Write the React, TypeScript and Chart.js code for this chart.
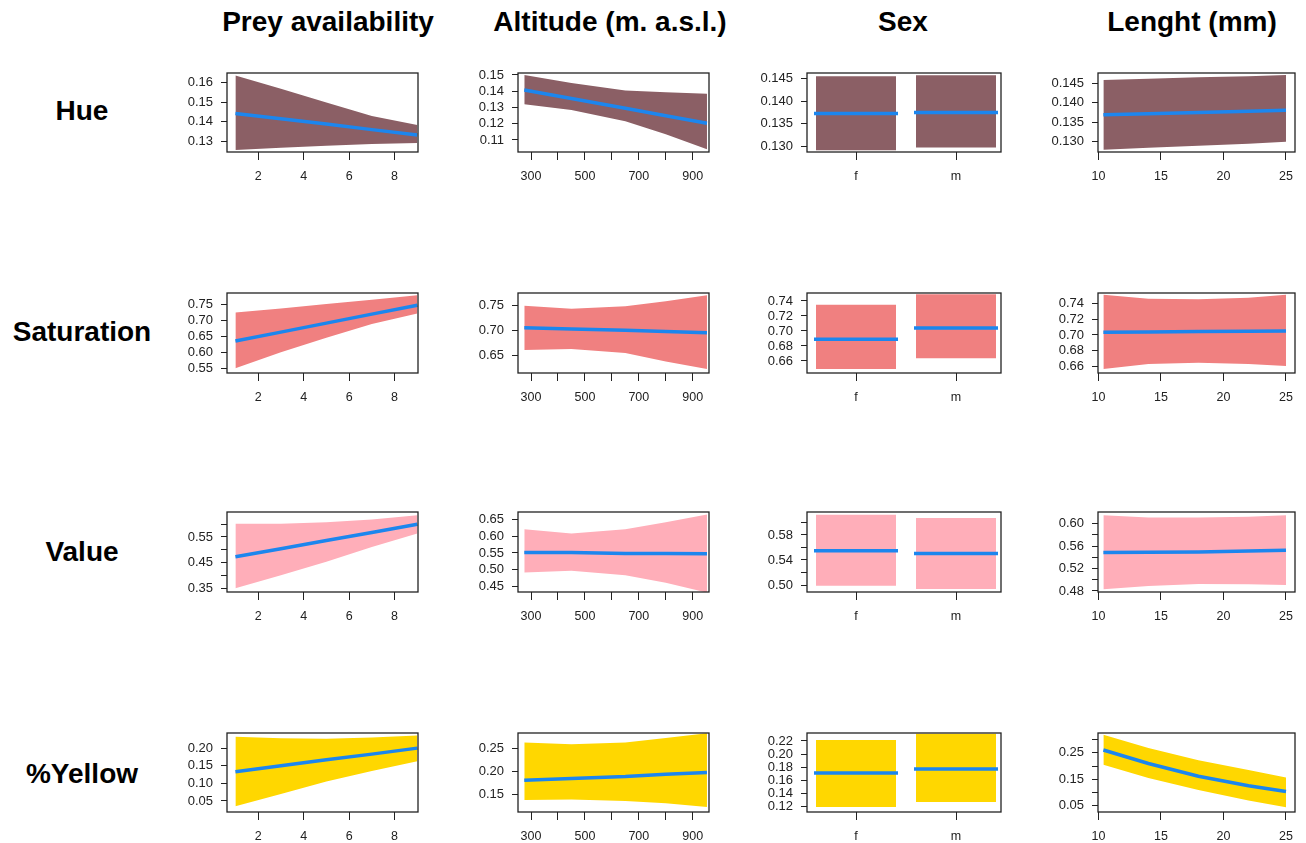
import React, { useEffect, useRef } from "react";
import { Chart, registerables } from "chart.js";
Chart.register(...registerables);

const FONT = "'Liberation Sans', Arial, Helvetica, sans-serif";
Chart.defaults.font.family = FONT;

const COLUMN_TITLES = ["Prey availability", "Altitude (m. a.s.l.)", "Sex", "Lenght (mm)"];
const ROW_TITLES = ["Hue", "Saturation", "Value", "%Yellow"];

// x grids
const PREY_X = [1, 3, 5, 7, 9];
const ALT_X = [275, 450, 650, 800, 953];
const LEN_X = [10.4, 14, 18, 22, 25];
const SEX_LEVELS = ["f", "m"];
const SEX_POS = [1, 2];

// x ticks
const PREY_XTICKS = [2, 4, 6, 8];
const PREY_XLABELS = ["2", "4", "6", "8"];
const ALT_XTICKS = [300, 400, 500, 600, 700, 800, 900];
const ALT_XLABELS = ["300", "", "500", "", "700", "", "900"];
const LEN_XTICKS = [10, 15, 20, 25];
const LEN_XLABELS = ["10", "15", "20", "25"];
const PREY_XRANGE = [0.63, 9.03];
const ALT_XRANGE = [251.7, 960.5];
const SEX_XRANGE = [0.51, 2.45];
const LEN_XRANGE = [9.97, 25.72];

// Hue
const HUE_PREY_FIT = [0.1443, 0.1416, 0.1389, 0.1361, 0.1334];
const HUE_PREY_UPPER = [0.1634, 0.1568, 0.1498, 0.143, 0.1384];
const HUE_PREY_LOWER = [0.1258, 0.127, 0.128, 0.1288, 0.1293];
const HUE_ALT_FIT = [0.1408, 0.1355, 0.1295, 0.1249, 0.1203];
const HUE_ALT_UPPER = [0.15, 0.1451, 0.1405, 0.1393, 0.1385];
const HUE_ALT_LOWER = [0.132, 0.1285, 0.1215, 0.1135, 0.1043];
const HUE_SEX_FIT = [0.1373, 0.1375];
const HUE_SEX_UPPER = [0.1456, 0.1458];
const HUE_SEX_LOWER = [0.1291, 0.1297];
const HUE_LEN_FIT = [0.1369, 0.1372, 0.1375, 0.1378, 0.1381];
const HUE_LEN_UPPER = [0.1458, 0.1461, 0.1465, 0.1468, 0.1471];
const HUE_LEN_LOWER = [0.128, 0.1285, 0.129, 0.1295, 0.13];

// Saturation
const SAT_PREY_FIT = [0.635, 0.663, 0.691, 0.719, 0.747];
const SAT_PREY_UPPER = [0.724, 0.737, 0.751, 0.764, 0.778];
const SAT_PREY_LOWER = [0.55, 0.6, 0.645, 0.688, 0.721];
const SAT_ALT_FIT = [0.705, 0.7025, 0.7, 0.6975, 0.695];
const SAT_ALT_UPPER = [0.749, 0.743, 0.748, 0.758, 0.77];
const SAT_ALT_LOWER = [0.66, 0.662, 0.654, 0.637, 0.622];
const SAT_SEX_FIT = [0.689, 0.704];
const SAT_SEX_UPPER = [0.7351, 0.7488];
const SAT_SEX_LOWER = [0.6494, 0.6635];
const SAT_LEN_FIT = [0.7034, 0.7038, 0.7043, 0.7048, 0.7052];
const SAT_LEN_UPPER = [0.7516, 0.7465, 0.746, 0.748, 0.7516];
const SAT_LEN_LOWER = [0.6561, 0.6625, 0.6643, 0.6625, 0.66];

// Value
const VAL_PREY_FIT = [0.4725, 0.504, 0.536, 0.567, 0.599];
const VAL_PREY_UPPER = [0.6016, 0.6016, 0.607, 0.618, 0.634];
const VAL_PREY_LOWER = [0.35, 0.401, 0.453, 0.511, 0.563];
const VAL_ALT_FIT = [0.5515, 0.551, 0.5485, 0.548, 0.5475];
const VAL_ALT_UPPER = [0.621, 0.6086, 0.621, 0.6418, 0.6655];
const VAL_ALT_LOWER = [0.4915, 0.4966, 0.4832, 0.4604, 0.4313];
const VAL_SEX_FIT = [0.5546, 0.5503];
const VAL_SEX_UPPER = [0.6123, 0.607];
const VAL_SEX_LOWER = [0.499, 0.4936];
const VAL_LEN_FIT = [0.5486, 0.549, 0.5495, 0.551, 0.5527];
const VAL_LEN_UPPER = [0.6147, 0.611, 0.6106, 0.612, 0.6147];
const VAL_LEN_LOWER = [0.483, 0.489, 0.4924, 0.492, 0.4907];

// %Yellow
const YEL_PREY_FIT = [0.133, 0.15, 0.167, 0.183, 0.2];
const YEL_PREY_UPPER = [0.232, 0.228, 0.227, 0.23, 0.236];
const YEL_PREY_LOWER = [0.035, 0.07, 0.105, 0.135, 0.163];
const YEL_ALT_FIT = [0.18, 0.184, 0.188, 0.193, 0.197];
const YEL_ALT_UPPER = [0.262, 0.258, 0.262, 0.272, 0.282];
const YEL_ALT_LOWER = [0.137, 0.138, 0.135, 0.13, 0.122];
const YEL_SEX_FIT = [0.1708, 0.177];
const YEL_SEX_UPPER = [0.2215, 0.231];
const YEL_SEX_LOWER = [0.1185, 0.126];
const YEL_LEN_FIT = [0.261, 0.21, 0.162, 0.126, 0.104];
const YEL_LEN_UPPER = [0.318, 0.268, 0.222, 0.185, 0.157];
const YEL_LEN_LOWER = [0.205, 0.155, 0.11, 0.07, 0.045];

// y ticks, labels and ranges
const HUE_PREY_YTICKS = [0.13, 0.14, 0.15, 0.16];
const HUE_PREY_YLABELS = ["0.13", "0.14", "0.15", "0.16"];
const HUE_PREY_YRANGE = [0.1248, 0.1647];
const HUE_ALT_YTICKS = [0.11, 0.12, 0.13, 0.14, 0.15];
const HUE_ALT_YLABELS = ["0.11", "0.12", "0.13", "0.14", "0.15"];
const HUE_ALT_YRANGE = [0.1026, 0.1512];
const HUE_SEX_YTICKS = [0.13, 0.135, 0.14, 0.145];
const HUE_SEX_YLABELS = ["0.130", "0.135", "0.140", "0.145"];
const HUE_SEX_YRANGE = [0.1287, 0.1463];
const HUE_LEN_YTICKS = [0.13, 0.135, 0.14, 0.145];
const HUE_LEN_YLABELS = ["0.130", "0.135", "0.140", "0.145"];
const HUE_LEN_YRANGE = [0.1274, 0.1476];

const SAT_PREY_YTICKS = [0.55, 0.6, 0.65, 0.7, 0.75];
const SAT_PREY_YLABELS = ["0.55", "0.60", "0.65", "0.70", "0.75"];
const SAT_PREY_YRANGE = [0.5354, 0.785];
const SAT_ALT_YTICKS = [0.65, 0.7, 0.75];
const SAT_ALT_YLABELS = ["0.65", "0.70", "0.75"];
const SAT_ALT_YRANGE = [0.614, 0.7746];
const SAT_SEX_YTICKS = [0.66, 0.68, 0.7, 0.72, 0.74];
const SAT_SEX_YLABELS = ["0.66", "0.68", "0.70", "0.72", "0.74"];
const SAT_SEX_YRANGE = [0.644, 0.7506];
const SAT_LEN_YTICKS = [0.66, 0.68, 0.7, 0.72, 0.74];
const SAT_LEN_YLABELS = ["0.66", "0.68", "0.70", "0.72", "0.74"];
const SAT_LEN_YRANGE = [0.651, 0.754];

const VAL_PREY_YTICKS = [0.35, 0.4, 0.45, 0.5, 0.55, 0.6];
const VAL_PREY_YLABELS = ["0.35", "", "0.45", "", "0.55", ""];
const VAL_PREY_YRANGE = [0.3357, 0.647];
const VAL_ALT_YTICKS = [0.45, 0.5, 0.55, 0.6, 0.65];
const VAL_ALT_YLABELS = ["0.45", "0.50", "0.55", "0.60", "0.65"];
const VAL_ALT_YRANGE = [0.433, 0.6727];
const VAL_SEX_YTICKS = [0.5, 0.52, 0.54, 0.56, 0.58, 0.6];
const VAL_SEX_YLABELS = ["0.50", "", "0.54", "", "0.58", ""];
const VAL_SEX_YRANGE = [0.4889, 0.6166];
const VAL_LEN_YTICKS = [0.48, 0.5, 0.52, 0.54, 0.56, 0.58, 0.6];
const VAL_LEN_YLABELS = ["0.48", "", "0.52", "", "0.56", "", "0.60"];
const VAL_LEN_YRANGE = [0.4782, 0.6206];

const YEL_PREY_YTICKS = [0.05, 0.1, 0.15, 0.2];
const YEL_PREY_YLABELS = ["0.05", "0.10", "0.15", "0.20"];
const YEL_PREY_YRANGE = [0.0186, 0.243];
const YEL_ALT_YTICKS = [0.15, 0.2, 0.25];
const YEL_ALT_YLABELS = ["0.15", "0.20", "0.25"];
const YEL_ALT_YRANGE = [0.111, 0.2826];
const YEL_SEX_YTICKS = [0.12, 0.14, 0.16, 0.18, 0.2, 0.22];
const YEL_SEX_YLABELS = ["0.12", "0.14", "0.16", "0.18", "0.20", "0.22"];
const YEL_SEX_YRANGE = [0.1108, 0.2323];
const YEL_LEN_YTICKS = [0.05, 0.1, 0.15, 0.2, 0.25, 0.3];
const YEL_LEN_YLABELS = ["0.05", "", "0.15", "", "0.25", ""];
const YEL_LEN_YRANGE = [0.027, 0.325];

// colours
const HUE_COLOR = "#8B5F65";
const SAT_COLOR = "#F08080";
const VAL_COLOR = "#FFAEB9";
const YEL_COLOR = "#FFD700";
const FIT_COLOR = "#1C86EE";

// layout (pixel boxes of plot areas)
const COL_BOXES = [[227, 418], [518, 709], [807, 1001], [1098, 1295]];
const ROW_BOXES = [[73, 152], [293, 372.5], [512, 592], [733, 812]];
const COL_TITLE_X = [328, 610, 903, 1192];
const COL_TITLE_Y = 22;
const ROW_TITLE_X = 82;
const ROW_TITLE_Y = [111, 332, 552, 774];

type Spec = {
  kind: "cont" | "sex";
  x: number[];
  fit: number[];
  upper: number[];
  lower: number[];
  color: string;
  xTicks: number[];
  xLabels: string[];
  xRange: number[];
  yTicks: number[];
  yLabels: string[];
  yRange: number[];
};

const cont = (x: number[], xTicks: number[], xLabels: string[], xRange: number[]) => ({ kind: "cont" as const, x, xTicks, xLabels, xRange });
const PREY = cont(PREY_X, PREY_XTICKS, PREY_XLABELS, PREY_XRANGE);
const ALT = cont(ALT_X, ALT_XTICKS, ALT_XLABELS, ALT_XRANGE);
const LEN = cont(LEN_X, LEN_XTICKS, LEN_XLABELS, LEN_XRANGE);
const SEX = { kind: "sex" as const, x: SEX_POS, xTicks: SEX_POS, xLabels: SEX_LEVELS, xRange: SEX_XRANGE };

const SPECS: Spec[][] = [
  [
    { ...PREY, fit: HUE_PREY_FIT, upper: HUE_PREY_UPPER, lower: HUE_PREY_LOWER, color: HUE_COLOR, yTicks: HUE_PREY_YTICKS, yLabels: HUE_PREY_YLABELS, yRange: HUE_PREY_YRANGE },
    { ...ALT, fit: HUE_ALT_FIT, upper: HUE_ALT_UPPER, lower: HUE_ALT_LOWER, color: HUE_COLOR, yTicks: HUE_ALT_YTICKS, yLabels: HUE_ALT_YLABELS, yRange: HUE_ALT_YRANGE },
    { ...SEX, fit: HUE_SEX_FIT, upper: HUE_SEX_UPPER, lower: HUE_SEX_LOWER, color: HUE_COLOR, yTicks: HUE_SEX_YTICKS, yLabels: HUE_SEX_YLABELS, yRange: HUE_SEX_YRANGE },
    { ...LEN, fit: HUE_LEN_FIT, upper: HUE_LEN_UPPER, lower: HUE_LEN_LOWER, color: HUE_COLOR, yTicks: HUE_LEN_YTICKS, yLabels: HUE_LEN_YLABELS, yRange: HUE_LEN_YRANGE },
  ],
  [
    { ...PREY, fit: SAT_PREY_FIT, upper: SAT_PREY_UPPER, lower: SAT_PREY_LOWER, color: SAT_COLOR, yTicks: SAT_PREY_YTICKS, yLabels: SAT_PREY_YLABELS, yRange: SAT_PREY_YRANGE },
    { ...ALT, fit: SAT_ALT_FIT, upper: SAT_ALT_UPPER, lower: SAT_ALT_LOWER, color: SAT_COLOR, yTicks: SAT_ALT_YTICKS, yLabels: SAT_ALT_YLABELS, yRange: SAT_ALT_YRANGE },
    { ...SEX, fit: SAT_SEX_FIT, upper: SAT_SEX_UPPER, lower: SAT_SEX_LOWER, color: SAT_COLOR, yTicks: SAT_SEX_YTICKS, yLabels: SAT_SEX_YLABELS, yRange: SAT_SEX_YRANGE },
    { ...LEN, fit: SAT_LEN_FIT, upper: SAT_LEN_UPPER, lower: SAT_LEN_LOWER, color: SAT_COLOR, yTicks: SAT_LEN_YTICKS, yLabels: SAT_LEN_YLABELS, yRange: SAT_LEN_YRANGE },
  ],
  [
    { ...PREY, fit: VAL_PREY_FIT, upper: VAL_PREY_UPPER, lower: VAL_PREY_LOWER, color: VAL_COLOR, yTicks: VAL_PREY_YTICKS, yLabels: VAL_PREY_YLABELS, yRange: VAL_PREY_YRANGE },
    { ...ALT, fit: VAL_ALT_FIT, upper: VAL_ALT_UPPER, lower: VAL_ALT_LOWER, color: VAL_COLOR, yTicks: VAL_ALT_YTICKS, yLabels: VAL_ALT_YLABELS, yRange: VAL_ALT_YRANGE },
    { ...SEX, fit: VAL_SEX_FIT, upper: VAL_SEX_UPPER, lower: VAL_SEX_LOWER, color: VAL_COLOR, yTicks: VAL_SEX_YTICKS, yLabels: VAL_SEX_YLABELS, yRange: VAL_SEX_YRANGE },
    { ...LEN, fit: VAL_LEN_FIT, upper: VAL_LEN_UPPER, lower: VAL_LEN_LOWER, color: VAL_COLOR, yTicks: VAL_LEN_YTICKS, yLabels: VAL_LEN_YLABELS, yRange: VAL_LEN_YRANGE },
  ],
  [
    { ...PREY, fit: YEL_PREY_FIT, upper: YEL_PREY_UPPER, lower: YEL_PREY_LOWER, color: YEL_COLOR, yTicks: YEL_PREY_YTICKS, yLabels: YEL_PREY_YLABELS, yRange: YEL_PREY_YRANGE },
    { ...ALT, fit: YEL_ALT_FIT, upper: YEL_ALT_UPPER, lower: YEL_ALT_LOWER, color: YEL_COLOR, yTicks: YEL_ALT_YTICKS, yLabels: YEL_ALT_YLABELS, yRange: YEL_ALT_YRANGE },
    { ...SEX, fit: YEL_SEX_FIT, upper: YEL_SEX_UPPER, lower: YEL_SEX_LOWER, color: YEL_COLOR, yTicks: YEL_SEX_YTICKS, yLabels: YEL_SEX_YLABELS, yRange: YEL_SEX_YRANGE },
    { ...LEN, fit: YEL_LEN_FIT, upper: YEL_LEN_UPPER, lower: YEL_LEN_LOWER, color: YEL_COLOR, yTicks: YEL_LEN_YTICKS, yLabels: YEL_LEN_YLABELS, yRange: YEL_LEN_YRANGE },
  ],
];

const Y_AXIS_W = 70;
const X_AXIS_H = 40;
const PAD_TOP = 20;
const PAD_RIGHT = 20;
const SEX_BAR_HALF = 0.4;
const SEX_LINE_HALF = 0.42;

const boxPlugin = {
  id: "rbox",
  afterDraw(chart: any) {
    const { ctx, chartArea: a } = chart;
    ctx.save();
    ctx.strokeStyle = "#222";
    ctx.lineWidth = 1.3;
    ctx.strokeRect(a.left, a.top, a.right - a.left, a.bottom - a.top);
    ctx.restore();
  },
};

function buildDatasets(s: Spec) {
  const band = (up: any[], lo: any[]) => [
    { data: up, fill: "+1", backgroundColor: s.color, borderColor: s.color, borderWidth: 0, pointRadius: 0, order: 1 },
    { data: lo, fill: false, backgroundColor: s.color, borderColor: s.color, borderWidth: 0, pointRadius: 0, order: 1 },
  ];
  const line = (pts: any[]) => ({
    data: pts,
    fill: false,
    borderColor: FIT_COLOR,
    borderWidth: 3.5,
    pointRadius: 0,
    order: 0,
    borderCapStyle: "butt",
  });
  const ds: any[] = [];
  if (s.kind === "cont") {
    ds.push(...band(s.x.map((x, i) => ({ x, y: s.upper[i] })), s.x.map((x, i) => ({ x, y: s.lower[i] }))));
    ds.push(line(s.x.map((x, i) => ({ x, y: s.fit[i] }))));
  } else {
    s.x.forEach((c, i) => {
      ds.push(
        ...band(
          [{ x: c - SEX_BAR_HALF, y: s.upper[i] }, { x: c + SEX_BAR_HALF, y: s.upper[i] }],
          [{ x: c - SEX_BAR_HALF, y: s.lower[i] }, { x: c + SEX_BAR_HALF, y: s.lower[i] }]
        )
      );
    });
    s.x.forEach((c, i) => {
      ds.push(line([{ x: c - SEX_LINE_HALF, y: s.fit[i] }, { x: c + SEX_LINE_HALF, y: s.fit[i] }]));
    });
  }
  return ds;
}

function Panel({ spec, box }: { spec: Spec; box: number[] }) {
  const ref = useRef<HTMLCanvasElement>(null);
  const [l, r, t, b] = box;
  const w = Math.round(r - l) + Y_AXIS_W + PAD_RIGHT;
  const h = Math.round(b - t) + PAD_TOP + X_AXIS_H;
  useEffect(() => {
    const chart = new Chart(ref.current as HTMLCanvasElement, {
      type: "line",
      data: { datasets: buildDatasets(spec) },
      plugins: [boxPlugin],
      options: {
        animation: false,
        responsive: false,
        maintainAspectRatio: false,
        devicePixelRatio: 1,
        layout: { padding: { top: PAD_TOP, right: PAD_RIGHT, left: 0, bottom: 0 } },
        plugins: { legend: { display: false }, tooltip: { enabled: false } },
        scales: {
          x: {
            type: "linear",
            min: spec.xRange[0],
            max: spec.xRange[1],
            afterBuildTicks: (axis: any) => {
              axis.ticks = spec.xTicks.map((v) => ({ value: v }));
            },
            afterFit: (axis: any) => {
              axis.height = X_AXIS_H;
            },
            ticks: {
              autoSkip: false,
              maxRotation: 0,
              padding: 9,
              color: "#222",
              font: { size: 12.5 },
              callback: (_v: any, i: number) => spec.xLabels[i],
            },
            grid: { drawOnChartArea: false, drawTicks: true, tickLength: 8, color: "#222", lineWidth: 1 },
            border: { display: false },
          },
          y: {
            type: "linear",
            min: spec.yRange[0],
            max: spec.yRange[1],
            afterBuildTicks: (axis: any) => {
              axis.ticks = spec.yTicks.map((v) => ({ value: v }));
            },
            afterFit: (axis: any) => {
              axis.width = Y_AXIS_W;
            },
            ticks: {
              autoSkip: false,
              padding: 8,
              color: "#222",
              font: { size: 13 },
              callback: (_v: any, i: number) => spec.yLabels[i],
            },
            grid: { drawOnChartArea: false, drawTicks: true, tickLength: 6, color: "#222", lineWidth: 1 },
            border: { display: false },
          },
        },
      } as any,
    });
    return () => chart.destroy();
  }, []);
  return (
    <canvas
      ref={ref}
      width={w}
      height={h}
      style={{ position: "absolute", left: l - Y_AXIS_W, top: t - PAD_TOP, width: w, height: h }}
    />
  );
}

export default function App() {
  const titleStyle: React.CSSProperties = {
    position: "absolute",
    transform: "translate(-50%, -50%)",
    font: `bold 28px ${FONT}`,
    color: "#000",
    whiteSpace: "nowrap",
  };
  return (
    <div style={{ position: "absolute", left: 0, top: 0, width: 1306, height: 843, background: "#fff" }}>
      {COLUMN_TITLES.map((t, i) => (
        <div key={"c" + i} style={{ ...titleStyle, left: COL_TITLE_X[i], top: COL_TITLE_Y }}>
          {t}
        </div>
      ))}
      {ROW_TITLES.map((t, i) => (
        <div key={"r" + i} style={{ ...titleStyle, left: ROW_TITLE_X, top: ROW_TITLE_Y[i] }}>
          {t}
        </div>
      ))}
      {SPECS.map((row, ri) =>
        row.map((spec, ci) => (
          <Panel
            key={ri + "-" + ci}
            spec={spec}
            box={[COL_BOXES[ci][0], COL_BOXES[ci][1], ROW_BOXES[ri][0], ROW_BOXES[ri][1]]}
          />
        ))
      )}
    </div>
  );
}
